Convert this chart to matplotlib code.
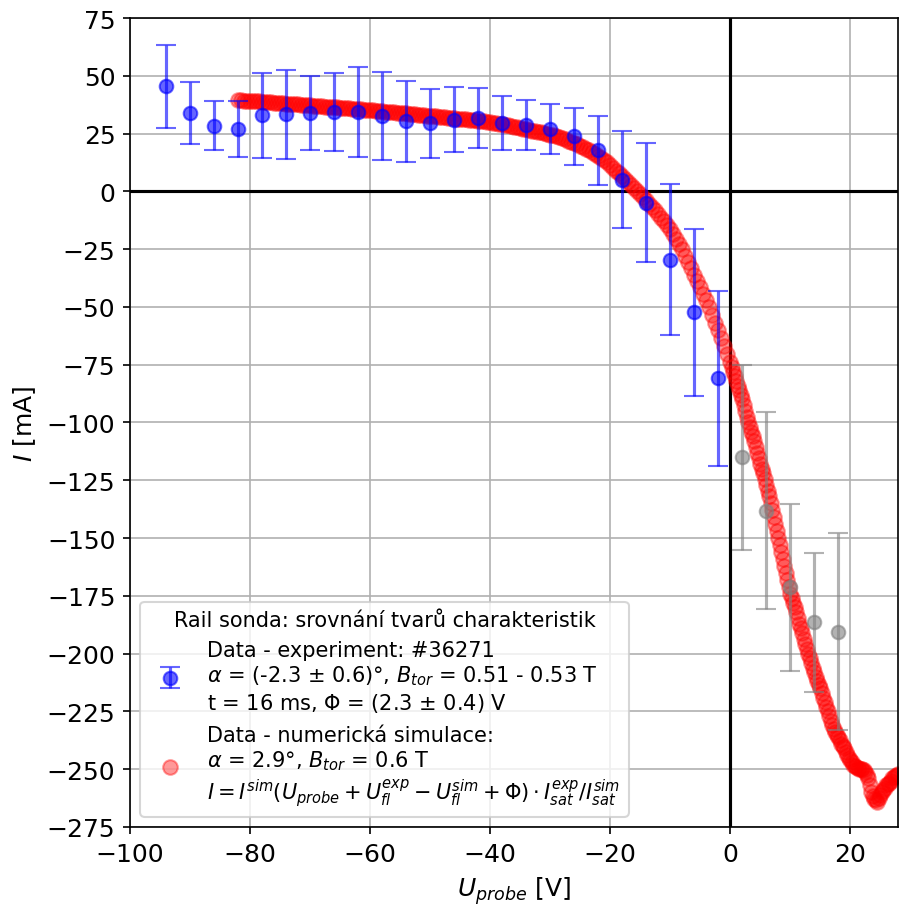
import numpy as np
import matplotlib
matplotlib.use('Agg')
import matplotlib.pyplot as plt

# experiment (shot #36271)
U_exp = [-94, -90, -86, -82, -78, -74, -70, -66, -62, -58, -54, -50,
         -46, -42, -38, -34, -30, -26, -22, -18, -14, -10, -6, -2]
I_exp = [45.4, 33.8, 28.4, 27.0, 32.9, 33.3, 33.8, 34.3, 34.3, 32.5, 30.4, 29.4,
         31.0, 31.9, 29.7, 28.7, 27.0, 23.8, 17.8, 5.0, -4.9, -29.6, -52.4, -80.9]
err_exp = [18, 13.3, 10.6, 12, 18.4, 19.2, 16, 17, 19.4, 19, 17.5, 15,
           14, 13, 11.6, 11, 10.8, 12.3, 15, 21, 25.7, 32.6, 36, 37.8]

# experiment points above floating potential (gray, not in legend)
U_gray = [2, 6, 10, 14, 18]
I_gray = [-115.1, -138.1, -171.3, -186.5, -190.5]
err_gray = [40, 42.7, 36, 30, 42.5]

# numerical simulation
U_sim = [-82, -81.5, -81, -80.5, -80, -79.5, -79, -78.5, -78, -77.5,
         -77, -76.5, -76, -75.5, -75, -74.5, -74, -73.5, -73, -72.5,
         -72, -71.5, -71, -70.5, -70, -69.5, -69, -68.5, -68, -67.5,
         -67, -66.5, -66, -65.5, -65, -64.5, -64, -63.5, -63, -62.5,
         -62, -61.5, -61, -60.5, -60, -59.5, -59, -58.5, -58, -57.5,
         -57, -56.5, -56, -55.5, -55, -54.5, -54, -53.5, -53, -52.5,
         -52, -51.5, -51, -50.5, -50, -49.5, -49, -48.5, -48, -47.5,
         -47, -46.5, -46, -45.5, -45, -44.5, -44, -43.5, -43, -42.5,
         -42, -41.5, -41, -40.5, -40, -39.5, -39, -38.5, -38, -37.5,
         -37, -36.5, -36, -35.5, -35, -34.5, -34, -33.5, -33, -32.5,
         -32, -31.5, -31, -30.5, -30, -29.5, -29, -28.5, -28, -27.5,
         -27, -26.5, -26, -25.5, -25, -24.5, -24, -23.5, -23, -22.5,
         -22, -21.5, -21, -20.5,
         -20, -19.5, -19, -18.5, -18, -17.5, -17, -16.5, -16, -15.5,
         -15, -14.5, -14, -13.5, -13, -12.5, -12, -11.5, -11, -10.5,
         -10, -9.5, -9, -8.5, -8, -7.5, -7, -6.5, -6, -5.5,
         -5, -4.5, -4, -3.5, -3, -2.5, -2, -1.5, -1, -0.5,
         0, 0.25, 0.5, 0.75, 1, 1.25, 1.5, 1.75, 2, 2.25, 2.5, 2.75,
         3, 3.25, 3.5, 3.75, 4, 4.25, 4.5, 4.75, 5, 5.25, 5.5, 5.75,
         6, 6.25, 6.5, 6.75, 7, 7.25, 7.5, 7.75, 8, 8.25, 8.5, 8.75,
         9, 9.25, 9.5, 9.75, 10, 10.25, 10.5, 10.75, 11, 11.25, 11.5, 11.75,
         12, 12.25, 12.5, 12.75, 13, 13.25, 13.5, 13.75, 14, 14.25, 14.5, 14.75,
         15, 15.25, 15.5, 15.75, 16, 16.25, 16.5, 16.75, 17, 17.25, 17.5, 17.75,
         18, 18.25, 18.5, 18.75, 19, 19.25, 19.5, 19.75, 20, 20.25, 20.5, 20.75,
         21, 21.25, 21.5, 21.75, 22, 22.25, 22.5, 22.75, 23, 23.25, 23.5, 23.75,
         24, 24.25, 24.5, 24.75, 25, 25.25, 25.5, 25.75, 26, 26.25, 26.5, 26.75,
         27, 27.25, 27.5, 27.75, 28]
I_sim = [39.6, 39.4, 39.3, 39.3, 39.2, 39.1, 39.0, 38.9, 38.8, 38.7,
         38.6, 38.5, 38.4, 38.3, 38.2, 38.1, 38.0, 37.9, 37.8, 37.7,
         37.6, 37.5, 37.4, 37.3, 37.2, 37.1, 37.0, 36.9, 36.8, 36.7,
         36.6, 36.5, 36.4, 36.3, 36.2, 36.1, 36.0, 35.9, 35.8, 35.7,
         35.6, 35.5, 35.4, 35.3, 35.2, 35.0, 34.9, 34.8, 34.7, 34.5,
         34.4, 34.3, 34.2, 34.0, 33.9, 33.8, 33.7, 33.5, 33.4, 33.3,
         33.2, 33.0, 32.9, 32.8, 32.7, 32.5, 32.4, 32.3, 32.2, 32.0,
         31.9, 31.8, 31.7, 31.5, 31.4, 31.3, 31.2, 31.0, 30.9, 30.7,
         30.6, 30.4, 30.3, 30.1, 30.0, 29.7, 29.5, 29.2, 29.0, 28.7,
         28.5, 28.2, 28.0, 27.7, 27.4, 27.1, 26.8, 26.5, 26.3, 26.0,
         25.8, 25.5, 25.2, 24.9, 24.6, 24.2, 23.8, 23.4, 23.0, 22.5,
         22.0, 21.5, 21.0, 20.4, 19.8, 19.1, 18.5, 17.8, 17.0, 16.2,
         15.3, 14.4, 13.5, 12.5,
         11.5, 10.3, 9.0, 7.8, 6.5, 5.3, 4.0, 2.8, 1.5, 0.2,
         -1.1, -2.5, -3.8, -5.3, -6.8, -8.2, -9.7, -11.4, -13.0, -14.7,
         -16.4, -18.5, -20.6, -22.8, -25.0, -27.8, -30.5, -33.2, -36.0, -38.8,
         -41.5, -44.2, -47.0, -50.2, -53.5, -56.8, -60.0, -63.5, -67.0, -70.5,
         -74.0, -76, -78, -80, -82, -84, -86, -88, -90, -92.5, -95, -97.5,
         -100, -102, -104, -106, -108, -110.5, -113, -115.5, -118, -120, -122, -124.5,
         -127, -129.5, -132, -135, -138, -141, -144, -147, -150, -153, -156, -159,
         -162, -165, -168, -171, -174, -176, -178, -180, -182, -184.5, -187, -189,
         -191, -193.5, -196, -198, -200, -202, -204, -206, -208, -210, -212, -213.5,
         -215, -217, -219, -221, -223, -225, -227, -229, -231, -232.5, -234, -235,
         -236, -237.5, -239, -240, -241, -242.5, -244, -245, -246, -247, -248, -248.5,
         -249, -249.5, -250, -250, -250, -250.5, -251, -252.5, -254, -257, -260, -261.5,
         -263, -263.5, -264, -262.5, -261, -260, -259, -258, -257, -256.5, -256, -255,
         -254, -253.5, -253, -252.5, -252]

lab_exp = ('Data - experiment: #36271\n'
           r'$\alpha$ = (-2.3 $\pm$ 0.6)°, $B_{tor}$ = 0.51 - 0.53 T' '\n'
           r't = 16 ms, $\Phi$ = (2.3 $\pm$ 0.4) V')
lab_sim = ('Data - numerická simulace:\n'
           r'$\alpha$ = 2.9°, $B_{tor}$ = 0.6 T' '\n'
           r'$I = I^{sim}(U_{probe} + U_{fl}^{exp} - U_{fl}^{sim} + \Phi) \cdot I_{sat}^{exp}/I_{sat}^{sim}$')

fig, ax = plt.subplots(figsize=(6, 6.0333), dpi=150)
fig.subplots_adjust(left=0.1444, right=0.9978, top=0.979, bottom=0.0851)

ax.grid(True)
ax.axhline(0, color='k', lw=1.5, zorder=1.8)
ax.axvline(0, color='k', lw=1.5, zorder=1.8)

h_sim, = ax.plot(U_sim, I_sim, 'o', color='red', alpha=0.4, ms=7, zorder=2, label=lab_sim)
h_exp = ax.errorbar(U_exp, I_exp, yerr=err_exp, fmt='o', color='blue', alpha=0.6,
                    ms=6.5, capsize=5, zorder=3, label=lab_exp)
ax.errorbar(U_gray, I_gray, yerr=err_gray, fmt='o', color='gray', alpha=0.6,
            ms=6.5, capsize=5, zorder=3)

ax.set_xlim(-100, 28)
ax.set_ylim(-275, 75)
ax.set_yticks(np.arange(-275, 76, 25))
ax.tick_params(labelsize=12)
ax.set_xlabel('$U_{probe}$ [V]', fontsize=12)
ax.set_ylabel('$I$ [mA]', fontsize=12)

ax.legend(handles=[h_exp, h_sim], title='Rail sonda: srovnání tvarů charakteristik',
          loc='lower left', fontsize=10, title_fontsize=10)

fig.savefig('out.png', dpi=150)
